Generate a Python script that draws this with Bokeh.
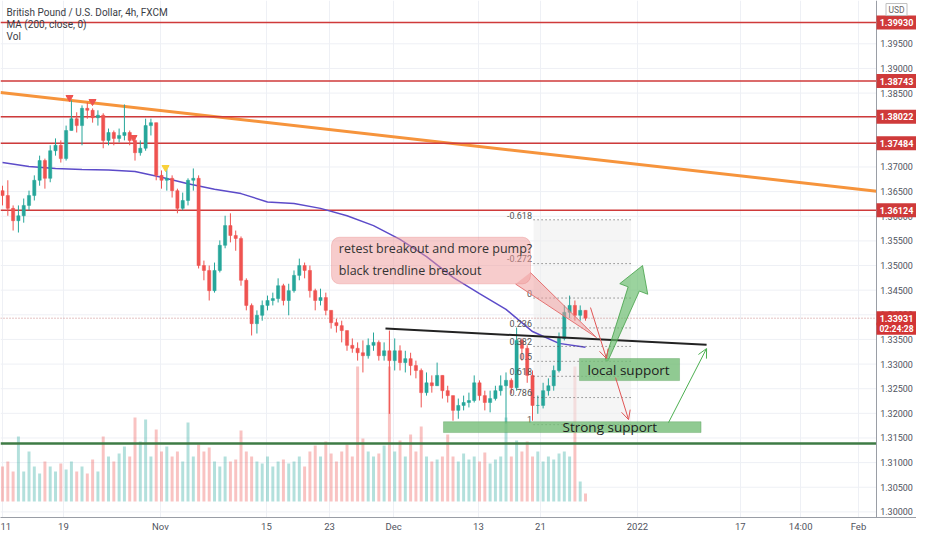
from bokeh.plotting import figure
from bokeh.models import (Range1d, FixedTicker, Label, BoxAnnotation, Arrow, OpenHead,
                          ColumnDataSource)
from bokeh.core.properties import value
from bokeh.embed import file_html
from bokeh.resources import INLINE

# ---------------- data (12h bars, time in trading days from Oct 11) ----------------
close = [1.3642, 1.3616, 1.3591, 1.3601, 1.3622, 1.3642, 1.3673, 1.3713, 1.3677, 1.3733,
         1.3744, 1.3717, 1.3774, 1.3798, 1.3784, 1.3819, 1.3815, 1.3800, 1.3805, 1.3754,
         1.3770, 1.3758, 1.3764, 1.3770, 1.3754, 1.3729, 1.3738, 1.3784, 1.3790, 1.3683,
         1.3673, 1.3677, 1.3652, 1.3616, 1.3632, 1.3673, 1.3677, 1.3500, 1.3490, 1.3449,
         1.3490, 1.3541, 1.3581, 1.3561, 1.3555, 1.3470, 1.3419, 1.3382, 1.3399, 1.3419,
         1.3429, 1.3433, 1.3459, 1.3429, 1.3449, 1.3480, 1.3500, 1.3490, 1.3449, 1.3429,
         1.3435, 1.3409, 1.3384, 1.3378, 1.3368, 1.3338, 1.3332, 1.3323, 1.3317, 1.3338,
         1.3344, 1.3317, 1.3327, 1.3307, 1.3327, 1.3303, 1.3311, 1.3297, 1.3287, 1.3242,
         1.3262, 1.3256, 1.3277, 1.3246, 1.3236, 1.3206, 1.3216, 1.3222, 1.3226, 1.3262,
         1.3236, 1.3222, 1.3230, 1.3246, 1.3256, 1.3267, 1.3252, 1.3348, 1.3332, 1.3277,
         1.3216, 1.3216, 1.3246, 1.3256, 1.3287, 1.3352, 1.3405, 1.3419, 1.3399, 1.3409,
         1.33931]
high = [1.3662, 1.3673, 1.3622, 1.3622, 1.3636, 1.3652, 1.3683, 1.3723, 1.3717, 1.3744,
        1.3758, 1.3754, 1.3784, 1.3835, 1.3811, 1.3825, 1.3831, 1.3819, 1.3815, 1.3809,
        1.3778, 1.3774, 1.3778, 1.3827, 1.3774, 1.3758, 1.3754, 1.3798, 1.3798, 1.3790,
        1.3693, 1.3697, 1.3683, 1.3656, 1.3648, 1.3677, 1.3697, 1.3683, 1.3510, 1.3500,
        1.3506, 1.3551, 1.3601, 1.3606, 1.3571, 1.3559, 1.3474, 1.3423, 1.3409, 1.3429,
        1.3439, 1.3445, 1.3474, 1.3463, 1.3463, 1.3490, 1.3514, 1.3506, 1.3500, 1.3453,
        1.3453, 1.3445, 1.3409, 1.3392, 1.3388, 1.3368, 1.3352, 1.3344, 1.3348, 1.3352,
        1.3364, 1.3348, 1.3344, 1.3368, 1.3352, 1.3338, 1.3327, 1.3323, 1.3307, 1.3291,
        1.3283, 1.3277, 1.3303, 1.3277, 1.3256, 1.3236, 1.3230, 1.3236, 1.3242, 1.3277,
        1.3267, 1.3246, 1.3246, 1.3256, 1.3277, 1.3283, 1.3271, 1.3374, 1.3352, 1.3338,
        1.3287, 1.3236, 1.3262, 1.3271, 1.3297, 1.3364, 1.3419, 1.3439, 1.3429, 1.3419,
        1.3409]
low = [1.3622, 1.3601, 1.3571, 1.3567, 1.3587, 1.3612, 1.3632, 1.3662, 1.3656, 1.3669,
       1.3723, 1.3709, 1.3713, 1.3774, 1.3770, 1.3744, 1.3798, 1.3790, 1.3784, 1.3738,
       1.3744, 1.3744, 1.3750, 1.3754, 1.3744, 1.3713, 1.3723, 1.3733, 1.3764, 1.3673,
       1.3656, 1.3652, 1.3638, 1.3606, 1.3612, 1.3622, 1.3652, 1.3494, 1.3470, 1.3429,
       1.3445, 1.3486, 1.3535, 1.3547, 1.3530, 1.3459, 1.3409, 1.3358, 1.3362, 1.3388,
       1.3409, 1.3419, 1.3425, 1.3419, 1.3399, 1.3445, 1.3470, 1.3474, 1.3435, 1.3409,
       1.3419, 1.3399, 1.3372, 1.3364, 1.3344, 1.3327, 1.3323, 1.3307, 1.3283, 1.3311,
       1.3327, 1.3307, 1.3307, 1.3199, 1.3287, 1.3287, 1.3283, 1.3277, 1.3271, 1.3212,
       1.3236, 1.3242, 1.3256, 1.3230, 1.3222, 1.3185, 1.3189, 1.3206, 1.3212, 1.3222,
       1.3226, 1.3206, 1.3202, 1.3226, 1.3236, 1.3179, 1.3240, 1.3246, 1.3307, 1.3262,
       1.3185, 1.3199, 1.3210, 1.3236, 1.3246, 1.3283, 1.3348, 1.3393, 1.3388, 1.3388,
       1.3388]
first_open = 1.3652
volume = [350, 400, 300, 650, 300, 500, 350, 280, 400, 350,
          300, 380, 320, 400, 300, 350, 280, 420, 300, 650,
          450, 400, 480, 550, 450, 840, 600, 820, 450, 720,
          500, 550, 450, 500, 400, 790, 450, 570, 500, 540,
          400, 350, 450, 400, 420, 710, 500, 450, 400, 380,
          450, 350, 400, 420, 380, 400, 450, 350, 500, 560,
          450, 600, 480, 400, 500, 570, 450, 1350, 630, 500,
          450, 480, 560, 1350, 500, 610, 450, 670, 500, 750,
          450, 400, 420, 450, 670, 450, 400, 480, 420, 450,
          400, 490, 380, 420, 450, 840, 450, 610, 500, 600,
          450, 500, 400, 450, 420, 480, 500, 450, 1350, 200,
          80]

ma_t = [0, 2.5, 5, 7.5, 10, 12.5, 15, 17.5, 20, 22.5, 25, 27.5, 30, 32.5, 35, 37.5,
        40, 42.5, 45, 47.5, 50, 52.5, 55]
ma200 = [1.3709, 1.3701, 1.3697, 1.3695, 1.3694, 1.3691, 1.3679, 1.3666, 1.3655, 1.3646,
         1.3629, 1.3626, 1.3616, 1.3601, 1.3581, 1.3553, 1.3518, 1.3476, 1.3443, 1.3411,
         1.3366, 1.3342, 1.3334]

date_tick_pos = [0, 5.75, 14.9, 24.9, 30.85, 36.9, 44.9, 50.75, 59.9, 69.6, 75.3, 80.75]
date_tick_lbl = ["11", "19", "Nov", "15", "23", "Dec", "13", "21", "2022", "17", "14:00", "Feb"]

price_ticks = [1.300, 1.305, 1.310, 1.315, 1.320, 1.325, 1.330, 1.335, 1.340, 1.345,
               1.350, 1.355, 1.360, 1.365, 1.370, 1.375, 1.380, 1.385, 1.390, 1.395]

hlines = [1.39930, 1.38743, 1.38022, 1.37484, 1.36124]
last_price = 1.33931
countdown = "02:24:28"
green_line = 1.31386

orange_x = [-0.19, 83.3]
orange_y = [1.38511, 1.36488]
black_x = [36.13, 66.42]
black_y = [1.3372, 1.3339]

fib_hi, fib_lo = 1.3434, 1.3177
fib_ratios = [-0.618, -0.272, 0, 0.236, 0.382, 0.5, 0.618, 0.786, 1]
fib_names = ["-0.618", "-0.272", "0", "0.236", "0.382", "0.5", "0.618", "0.786", "1"]
fib_x = [50.1, 59.3]

strong_box = dict(left=41.6, right=65.9, top=1.3183, bottom=1.3161)
local_box = dict(left=54.43, right=63.87, top=1.33112, bottom=1.32665)
note_box = dict(left=31.04, right=49.81, top=1.35574, bottom=1.34628)
note_tail_x = [48.4, 49.8, 56.04]
note_tail_y = [1.34624, 1.34857, 1.33538]
big_arrow_x = [56.85, 59.02, 58.23, 60.38, 60.87, 60.08, 57.11]
big_arrow_y = [1.33081, 1.34567, 1.34632, 1.34999, 1.34417, 1.34482, 1.33061]
red_arrows = [(55.47, 1.34147, 56.98, 1.33112), (57.83, 1.32726, 59.06, 1.31873)]
green_arrow = (62.83, 1.31812, 66.42, 1.33315)

sig_red_x = [6.32, 8.49, 12.36]
sig_red_y = [1.38410, 1.38329, 1.37598]
sig_yel_x = [15.38]
sig_yel_y = [1.36989]

# ---------------- figure ----------------
FONT = "Roboto"
SANS = "Open Sans"
W, H = 916, 534
AXIS_H = 17                     # time-axis strip height
AXW = 40                        # price-scale strip width
PX_DAY = 10.6                   # pixels per trading day
PX_PRICE = 0.00020296           # price per pixel
X0 = -0.19
X1 = X0 + W / PX_DAY
XA = X0 + (W - AXW) / PX_DAY    # left edge of the price scale strip
Y1 = 1.40379
Y0 = Y1 - (H - AXIS_H) * PX_PRICE

p = figure(width=W, height=H, x_range=Range1d(X0, X1), y_range=Range1d(Y0, Y1),
           y_axis_location=None, output_backend="svg", toolbar_location=None,
           min_border_left=0, min_border_top=0, min_border_right=0, min_border_bottom=AXIS_H)
p.outline_line_color = None
p.background_fill_color = "white"
p.extra_y_ranges = {"vol": Range1d(-160, -160 + (H - AXIS_H) * 10)}

xt = FixedTicker(ticks=date_tick_pos)
p.xaxis.ticker = xt
p.xgrid.ticker = xt
p.xgrid.grid_line_color = "#eef0f5"
p.ygrid.grid_line_color = None
p.xaxis.major_label_overrides = {pos: lbl for pos, lbl in zip(date_tick_pos, date_tick_lbl)}
p.xaxis.major_tick_line_color = None
p.xaxis.minor_tick_line_color = None
p.xaxis.major_tick_out = 0
p.xaxis.major_tick_in = 0
p.xaxis.axis_line_color = "#9a9ea6"
p.xaxis.major_label_text_font = FONT
p.xaxis.major_label_text_font_size = "9.5px"
p.xaxis.major_label_text_color = "#50535e"
p.xaxis.major_label_standoff = 3

# horizontal grid (chart area only)
p.segment(x0=X0, x1=XA, y0=price_ticks, y1=price_ticks, line_color="#eef0f5", line_width=1)

# ---------------- series ----------------
open_ = [first_open] + close[:-1]
t = [0.5 * i for i in range(len(close))]
col = ["#26a69a" if c >= o else "#ef5350" for o, c in zip(open_, close)]
src = ColumnDataSource(dict(t=t, o=open_, h=high, l=low, c=close, v=volume, col=col))

p.vbar(x="t", top="v", bottom=0, width=0.28, fill_color="col", line_color=None,
       fill_alpha=0.35, y_range_name="vol", source=src)

lv = [fib_hi - r * (fib_hi - fib_lo) for r in fib_ratios]
p.quad(left=fib_x[0], right=fib_x[1], top=max(lv), bottom=min(lv),
       fill_color="#eeeeee", fill_alpha=0.6, line_color=None)

p.line(orange_x, orange_y, line_color="#f6943c", line_width=3)
p.segment(x0=X0, x1=XA, y0=hlines, y1=hlines, line_color="#cf3a3a", line_width=1.5)
p.segment(x0=X0, x1=XA, y0=green_line, y1=green_line, line_color="#3e7b45", line_width=2.5)
p.segment(x0=X0, x1=XA, y0=last_price, y1=last_price, line_color="#c98585",
          line_width=1, line_dash="1 2")

p.line(ma_t, ma200, line_color="#5c4bc9", line_width=1.5)

p.segment(x0="t", x1="t", y0="h", y1="l", line_color="col", line_width=1, source=src)
p.vbar(x="t", top="o", bottom="c", width=0.3, fill_color="col", line_color="col",
       line_width=0.5, source=src)

p.scatter(sig_red_x, sig_red_y, marker="inverted_triangle", size=7, color="#ef5350")
p.scatter(sig_yel_x, sig_yel_y, marker="inverted_triangle", size=7, color="#f9d13a")

p.line(black_x, black_y, line_color="#222222", line_width=2)

# fib levels
p.segment(x0=fib_x[0], x1=fib_x[1], y0=lv, y1=lv,
          line_color="#555555", line_width=1, line_dash="1 3")
p.text(x=[fib_x[0] - 0.15] * len(lv), y=[v + 0.00095 for v in lv], text=fib_names,
       text_align="right", text_baseline="middle", text_font=value(FONT),
       text_font_size="9px", text_color="#555555")

# support boxes
for b, txt, tx in ((strong_box, "Strong support", 52.83), (local_box, "local support", 55.19)):
    p.add_layout(BoxAnnotation(left=b["left"], right=b["right"], top=b["top"], bottom=b["bottom"],
                               fill_color="#74bd77", fill_alpha=0.8, line_color="#3c8c40",
                               line_width=1))
    p.add_layout(Label(x=tx, y=(b["top"] + b["bottom"]) / 2, text=txt, text_baseline="middle",
                       text_font=SANS, text_font_size="13.5px", text_color="#1d1d1d"))

# note callout
p.patch(note_tail_x, note_tail_y, fill_color="#ef9a9a", fill_alpha=0.5, line_color=None)
p.line(note_tail_x[1:], note_tail_y[1:], line_color="#e57373", line_width=1)
p.line([note_tail_x[0], note_tail_x[2]], [note_tail_y[0], note_tail_y[2]],
       line_color="#e57373", line_width=1)
p.add_layout(BoxAnnotation(left=note_box["left"], right=note_box["right"], top=note_box["top"],
                           bottom=note_box["bottom"], fill_color="#ef9a9a", fill_alpha=0.5,
                           line_color="#e57373", line_width=1, border_radius=8))
p.add_layout(Label(x=31.73, y=1.35345, text="retest breakout and more pump?",
                   text_baseline="middle", text_font=SANS, text_font_size="12.5px",
                   text_color="#333333"))
p.add_layout(Label(x=31.73, y=1.34898, text="black trendline breakout",
                   text_baseline="middle", text_font=SANS, text_font_size="12.5px",
                   text_color="#333333"))

# arrows
p.patch(big_arrow_x, big_arrow_y, fill_color="#66bb6a", fill_alpha=0.65,
        line_color="#43a047", line_alpha=0.8, line_width=1)
for xs, ys, xe, ye in red_arrows:
    p.add_layout(Arrow(end=OpenHead(size=9, line_color="#e05555", line_width=1),
                       x_start=xs, y_start=ys, x_end=xe, y_end=ye,
                       line_color="#e05555", line_width=1))
p.add_layout(Arrow(end=OpenHead(size=9, line_color="#4caf50", line_width=1),
                   x_start=green_arrow[0], y_start=green_arrow[1],
                   x_end=green_arrow[2], y_end=green_arrow[3],
                   line_color="#4caf50", line_width=1))

# header
p.text(x=[0.38] * 3, y=[1.40135, 1.39892, 1.39648],
       text=["British Pound / U.S. Dollar, 4h, FXCM", "MA (200, close, 0)", "Vol"],
       text_baseline="middle", text_font=value(FONT), text_font_size="10px",
       text_color="#3a3d46")

# ---------------- price scale (right) ----------------
XC = (XA + X1) / 2
p.quad(left=XA, right=X1, top=Y1, bottom=Y0, fill_color="white", line_color=None)
p.segment(x0=XA, x1=XA, y0=Y0, y1=Y1, line_color="#9a9ea6", line_width=1)
p.text(x=[XC] * len(price_ticks), y=price_ticks, text=["%.5f" % v for v in price_ticks],
       text_align="center", text_baseline="middle", text_font=value(FONT),
       text_font_size="9px", text_color="#50535e")

p.rect(x=XC, y=hlines, width=X1 - XA, height=14, height_units="screen",
       fill_color="#cf3a3a", line_color=None)
p.text(x=[XC] * len(hlines), y=hlines, text=["%.5f" % v for v in hlines],
       text_align="center", text_baseline="middle", text_font=value(FONT),
       text_font_size="9px", text_font_style="bold", text_color="white")

cd_y = last_price - 10.5 * PX_PRICE
p.rect(x=XC, y=[last_price, cd_y], width=X1 - XA, height=[14, 12], height_units="screen",
       fill_color="#d23535", line_color=None)
p.text(x=[XC, XC], y=[last_price, cd_y], text=["%.5f" % last_price, countdown],
       text_align="center", text_baseline="middle", text_font=value(FONT),
       text_font_size=["9px", "8.5px"], text_font_style="bold", text_color="white")

p.rect(x=XC, y=1.40196, width=21, height=12, width_units="screen", height_units="screen",
       fill_color="white", line_color="#c0c0c0", line_width=1)
p.text(x=[XC], y=[1.40196], text=["USD"], text_align="center", text_baseline="middle",
       text_font=value(FONT), text_font_size="8.5px", text_color="#666666")

open("out.html", "w").write(file_html(p, INLINE))
